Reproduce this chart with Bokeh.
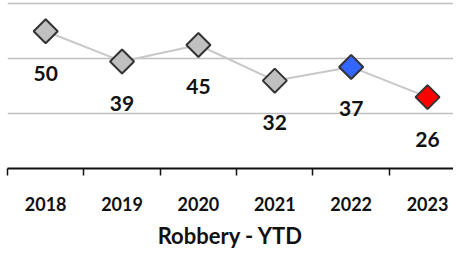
import math
from bokeh.plotting import figure
from bokeh.models import ColumnDataSource, FixedTicker, Range1d, Grid
from bokeh.core.properties import value
from bokeh.embed import file_html
from bokeh.resources import INLINE

# ---- data ----
years = ["2018", "2019", "2020", "2021", "2022", "2023"]
robbery_ytd = [50, 39, 45, 32, 37, 26]
grid_values = [20, 40, 60]
chart_title = "Robbery - YTD"

# ---- styles ----
marker_colors = ["#C0C0C0", "#C0C0C0", "#C0C0C0", "#C0C0C0", "#3366FF", "#FF0000"]
FONT = "Lato"

idx = list(range(len(years)))
src = ColumnDataSource(dict(
    x=idx,
    y=robbery_ytd,
    label=[str(v) for v in robbery_ytd],
    color=marker_colors,
))

p = figure(
    width=453, height=252,
    x_range=Range1d(-0.5, 5.34), y_range=Range1d(0, 61.2),
    output_backend="svg", toolbar_location=None,
    y_axis_location=None,
    min_border=0, min_border_left=7, min_border_bottom=84,
)
p.outline_line_color = None
p.grid.visible = False

grid = Grid(dimension=1, ticker=FixedTicker(ticks=grid_values),
            grid_line_color="#BFBFBF", grid_line_width=1.5)
p.add_layout(grid)

ax = p.xaxis[0]
ax.ticker = FixedTicker(ticks=idx, minor_ticks=[i - 0.5 for i in idx])
ax.major_label_overrides = {i: y for i, y in zip(idx, years)}
ax.major_tick_line_color = None
ax.major_tick_out = 0
ax.major_tick_in = 0
ax.minor_tick_out = 7
ax.minor_tick_in = 0
ax.minor_tick_line_color = "#111111"
ax.minor_tick_line_width = 1.5
ax.axis_line_color = "#111111"
ax.axis_line_width = 2
ax.major_label_text_font = FONT
ax.major_label_text_font_style = "bold"
ax.major_label_text_font_size = "18px"
ax.major_label_text_color = "#111111"
ax.major_label_standoff = 21
ax.axis_label = chart_title
ax.axis_label_text_font = FONT
ax.axis_label_text_font_style = "bold"
ax.axis_label_text_font_size = "22px"
ax.axis_label_text_color = "#111111"
ax.axis_label_standoff = 8

p.line("x", "y", source=src, line_color="#C8C8C8", line_width=2)
p.scatter("x", "y", source=src, marker="square", size=17, angle=math.pi / 4,
          fill_color="color", line_color="#333333", line_width=2)
p.text("x", "y", text="label", source=src, y_offset=42,
       text_align="center", text_baseline="middle",
       text_font=value(FONT), text_font_style="bold", text_font_size="21px",
       text_color="#111111")

open("out.html", "w").write(file_html(p, INLINE))
